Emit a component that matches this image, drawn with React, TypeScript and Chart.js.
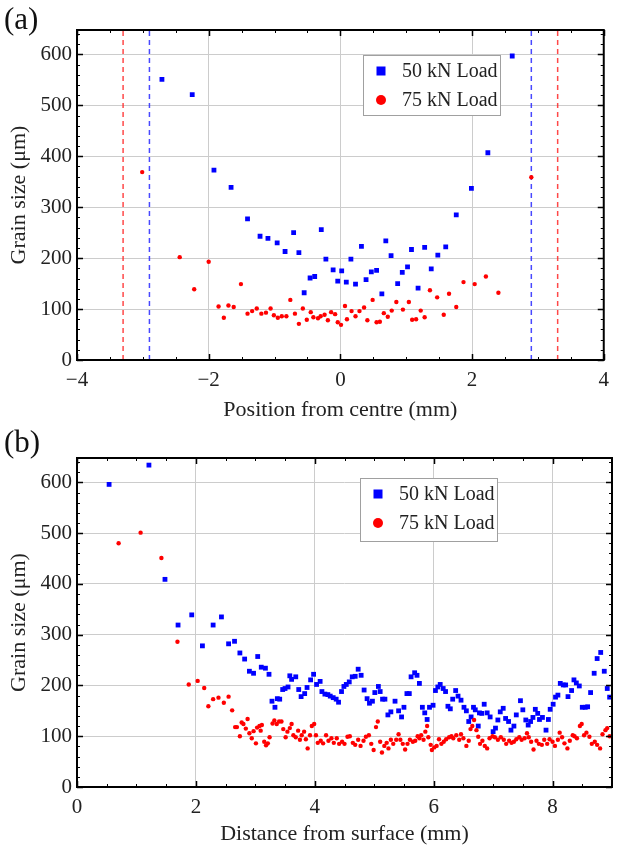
import React, { useEffect, useRef } from "react";
import { Chart, registerables } from "chart.js";

Chart.register(...registerables);

const FONT = '"Liberation Serif", "Times New Roman", serif';

// ---------- shared ----------
const SERIES_LABELS = ["50 kN Load", "75 kN Load"];
const SERIES_COLORS = ["#0000ff", "#ff0000"];
const Y_TICKS = [0, 100, 200, 300, 400, 500, 600];
const Y_MIN = 0;
const Y_MAX = 648;
const Y_TITLE = "Grain size (μm)";

// ---------- panel (a) ----------
const A_X_TICKS = [-4, -2, 0, 2, 4];
const A_X_MIN = -4;
const A_X_MAX = 4;
const A_X_TITLE = "Position from centre (mm)";
const A_CUTOFF_50 = [-2.9, 2.9];
const A_CUTOFF_75 = [-3.3, 3.3];

const A_50KN: [number, number][] = [
  [-2.71, 551], [-2.25, 521], [-1.92, 373], [-1.66, 339], [-1.41, 277], [-1.22, 243],
  [-1.10, 239], [-0.96, 230], [-0.84, 213], [-0.71, 250], [-0.63, 211], [-0.55, 132],
  [-0.46, 161], [-0.39, 164], [-0.29, 256], [-0.22, 198], [-0.11, 177], [-0.04, 155],
  [0.02, 175], [0.09, 153], [0.16, 198], [0.23, 149], [0.32, 223], [0.39, 158],
  [0.47, 173], [0.55, 176], [0.63, 130], [0.69, 234], [0.77, 205], [0.87, 150],
  [0.94, 172], [1.02, 183], [1.08, 217], [1.18, 141], [1.28, 221], [1.38, 179],
  [1.48, 206], [1.60, 222], [1.76, 285], [1.99, 337], [2.24, 407], [2.61, 597],
];

const A_75KN: [number, number][] = [
  [-3.01, 369], [-2.44, 202], [-2.22, 139], [-2.00, 193], [-1.85, 105], [-1.77, 83],
  [-1.70, 107], [-1.62, 104], [-1.51, 149], [-1.41, 91], [-1.34, 96], [-1.27, 101],
  [-1.20, 91], [-1.13, 93], [-1.06, 101], [-1.01, 88], [-0.95, 83], [-0.89, 86],
  [-0.82, 86], [-0.76, 118], [-0.69, 91], [-0.63, 71], [-0.57, 101], [-0.51, 79],
  [-0.45, 94], [-0.41, 84], [-0.34, 82], [-0.30, 86], [-0.24, 89], [-0.19, 78],
  [-0.14, 94], [-0.08, 90], [-0.04, 74], [0.01, 69], [0.07, 106], [0.10, 80],
  [0.17, 96], [0.23, 86], [0.29, 96], [0.36, 103], [0.41, 78], [0.49, 118],
  [0.55, 74], [0.60, 75], [0.66, 92], [0.72, 85], [0.78, 97], [0.85, 114],
  [0.95, 99], [1.04, 114], [1.09, 79], [1.15, 80], [1.22, 97], [1.28, 84],
  [1.36, 137], [1.47, 123], [1.57, 89], [1.65, 130], [1.76, 104], [1.87, 153],
  [2.04, 149], [2.21, 164], [2.40, 132], [2.90, 359],
];

// ---------- panel (b) ----------
const B_X_TICKS = [0, 2, 4, 6, 8];
const B_X_MIN = 0;
const B_X_MAX = 9;
const B_X_TITLE = "Distance from surface (mm)";

const B_50KN: [number, number][] = [
  [0.54, 596], [1.21, 634], [1.48, 409], [1.70, 319], [1.93, 339], [2.11, 278],
  [2.29, 319], [2.43, 335], [2.55, 282], [2.65, 287], [2.74, 264], [2.82, 252],
  [2.90, 228], [2.97, 224], [3.04, 257], [3.10, 236], [3.17, 234], [3.23, 222],
  [3.28, 169], [3.33, 157], [3.37, 174], [3.41, 173], [3.46, 192], [3.50, 194],
  [3.55, 197], [3.58, 219], [3.61, 212], [3.68, 217], [3.73, 192], [3.77, 178],
  [3.83, 184], [3.87, 196], [3.93, 211], [3.98, 222], [4.03, 202], [4.09, 208],
  [4.12, 188], [4.17, 183], [4.22, 182], [4.26, 179], [4.31, 176], [4.36, 173],
  [4.40, 167], [4.45, 188], [4.49, 198], [4.53, 202], [4.58, 207], [4.63, 217],
  [4.68, 218], [4.73, 232], [4.78, 220], [4.83, 191], [4.88, 174], [4.92, 165],
  [4.97, 169], [5.01, 186], [5.07, 198], [5.10, 188], [5.14, 173], [5.18, 173],
  [5.23, 142], [5.28, 148], [5.35, 169], [5.41, 150], [5.46, 138], [5.50, 157],
  [5.55, 184], [5.59, 184], [5.62, 217], [5.68, 225], [5.72, 220], [5.76, 204],
  [5.81, 157], [5.85, 146], [5.89, 133], [5.93, 157], [5.99, 161], [6.03, 190],
  [6.07, 197], [6.11, 202], [6.16, 194], [6.20, 188], [6.24, 159], [6.28, 154],
  [6.32, 173], [6.37, 190], [6.41, 179], [6.46, 171], [6.51, 157], [6.55, 150],
  [6.59, 129], [6.63, 138], [6.67, 157], [6.70, 152], [6.75, 120], [6.77, 146],
  [6.81, 145], [6.85, 163], [6.90, 146], [6.95, 138], [7.00, 109], [7.04, 116],
  [7.08, 132], [7.12, 148], [7.17, 155], [7.21, 135], [7.26, 129], [7.30, 112],
  [7.35, 120], [7.39, 142], [7.46, 170], [7.50, 152], [7.55, 132], [7.59, 122],
  [7.63, 129], [7.67, 137], [7.71, 153], [7.75, 145], [7.78, 133], [7.83, 137],
  [7.89, 112], [7.93, 133], [7.96, 153], [8.01, 163], [8.05, 177], [8.09, 181],
  [8.13, 204], [8.18, 201], [8.22, 201], [8.26, 178], [8.32, 190], [8.36, 211],
  [8.40, 205], [8.45, 199], [8.50, 157], [8.55, 157], [8.59, 158], [8.64, 186],
  [8.70, 224], [8.75, 253], [8.81, 265], [8.87, 228], [8.92, 194], [8.96, 177],
];

const B_75KN: [number, number][] = [
  [0.70, 480], [1.07, 501], [1.42, 451], [1.69, 286], [1.88, 202], [2.03, 209],
  [2.14, 195], [2.21, 159], [2.29, 173], [2.38, 176], [2.47, 166], [2.55, 178],
  [2.61, 151], [2.66, 118], [2.69, 118], [2.74, 100], [2.77, 127], [2.80, 124],
  [2.84, 115], [2.87, 134], [2.90, 106], [2.94, 96], [2.97, 110], [3.01, 86],
  [3.03, 117], [3.07, 120], [3.09, 111], [3.11, 122], [3.15, 89], [3.18, 82],
  [3.21, 86], [3.24, 98], [3.29, 125], [3.32, 131], [3.36, 124], [3.40, 129],
  [3.44, 129], [3.47, 114], [3.51, 98], [3.54, 109], [3.58, 116], [3.61, 124],
  [3.64, 102], [3.68, 98], [3.72, 111], [3.75, 93], [3.78, 102], [3.82, 109],
  [3.85, 94], [3.88, 76], [3.92, 102], [3.95, 120], [3.99, 124], [4.02, 102],
  [4.05, 87], [4.10, 91], [4.14, 86], [4.19, 102], [4.23, 91], [4.28, 96],
  [4.32, 87], [4.37, 96], [4.41, 85], [4.46, 89], [4.50, 85], [4.55, 99],
  [4.59, 100], [4.64, 87], [4.68, 83], [4.73, 93], [4.77, 81], [4.82, 91],
  [4.86, 99], [4.91, 102], [4.95, 85], [4.99, 73], [5.03, 118], [5.06, 129],
  [5.10, 89], [5.13, 68], [5.17, 81], [5.21, 87], [5.24, 76], [5.28, 93],
  [5.32, 85], [5.37, 93], [5.41, 104], [5.44, 93], [5.48, 85], [5.52, 74],
  [5.56, 85], [5.60, 93], [5.65, 89], [5.69, 91], [5.73, 100], [5.76, 96],
  [5.79, 102], [5.83, 93], [5.86, 109], [5.89, 120], [5.91, 98], [5.95, 83],
  [5.97, 73], [6.01, 78], [6.05, 81], [6.09, 94], [6.13, 85], [6.17, 89],
  [6.21, 94], [6.26, 98], [6.30, 100], [6.33, 96], [6.38, 102], [6.43, 93],
  [6.46, 104], [6.50, 96], [6.55, 81], [6.59, 91], [6.62, 114], [6.65, 120],
  [6.68, 132], [6.72, 112], [6.75, 99], [6.78, 85], [6.82, 91], [6.86, 81],
  [6.90, 76], [6.94, 96], [6.99, 100], [7.03, 98], [7.08, 93], [7.13, 98],
  [7.18, 93], [7.22, 85], [7.27, 91], [7.31, 87], [7.35, 89], [7.39, 94],
  [7.44, 98], [7.48, 93], [7.53, 96], [7.57, 106], [7.60, 98], [7.64, 89],
  [7.68, 74], [7.73, 91], [7.77, 85], [7.82, 83], [7.86, 93], [7.91, 85],
  [7.95, 94], [8.00, 89], [8.04, 81], [8.09, 93], [8.12, 107], [8.16, 98],
  [8.20, 86], [8.25, 76], [8.29, 91], [8.34, 102], [8.37, 100], [8.41, 96],
  [8.46, 120], [8.49, 124], [8.53, 102], [8.57, 107], [8.62, 99], [8.66, 85],
  [8.71, 89], [8.75, 83], [8.80, 76], [8.84, 104], [8.89, 112], [8.92, 116],
  [8.96, 100],
];

// ---------- helpers ----------
const fmt = (v: number) => (v < 0 ? "\u2212" + Math.abs(v) : String(v));
const toPts = (arr: [number, number][]) => arr.map(([x, y]) => ({ x, y }));

const framePlugin = {
  id: "frame",
  afterDatasetsDraw(chart: any, _a: any, o: any) {
    const { ctx, chartArea: a, scales } = chart;
    const xs = scales.x;
    const ys = scales.y;
    ctx.save();
    ctx.strokeStyle = "#000";
    ctx.lineWidth = 1;
    const tickX = (step: number, len: number) => {
      const start = Math.ceil(xs.min / step - 1e-9);
      const end = Math.floor(xs.max / step + 1e-9);
      for (let i = start; i <= end; i++) {
        const px = Math.round(xs.getPixelForValue(i * step)) + 0.5;
        ctx.beginPath();
        ctx.moveTo(px, a.bottom);
        ctx.lineTo(px, a.bottom - len);
        ctx.moveTo(px, a.top);
        ctx.lineTo(px, a.top + len);
        ctx.stroke();
      }
    };
    const tickY = (step: number, len: number) => {
      const start = Math.ceil(ys.min / step - 1e-9);
      const end = Math.floor(ys.max / step + 1e-9);
      for (let i = start; i <= end; i++) {
        const py = Math.round(ys.getPixelForValue(i * step)) + 0.5;
        ctx.beginPath();
        ctx.moveTo(a.left, py);
        ctx.lineTo(a.left + len, py);
        ctx.moveTo(a.right, py);
        ctx.lineTo(a.right - len, py);
        ctx.stroke();
      }
    };
    tickX(o.xMinor, 3);
    tickY(o.yMinor, 3);
    ctx.lineWidth = 1.5;
    tickX(o.xMajor, 6);
    tickY(o.yMajor, 6);
    ctx.lineWidth = 2;
    ctx.strokeRect(a.left, a.top, a.right - a.left, a.bottom - a.top);
    ctx.restore();
  },
};

const boxLegendPlugin = {
  id: "boxLegend",
  afterDraw(chart: any, _a: any, o: any) {
    if (!o || !o.box) return;
    const ctx = chart.ctx;
    const [x, y, w, h] = o.box;
    ctx.save();
    ctx.fillStyle = "#ffffff";
    ctx.fillRect(x, y, w, h);
    ctx.strokeStyle = "#a0a0a0";
    ctx.lineWidth = 1;
    ctx.strokeRect(x + 0.5, y + 0.5, w, h);
    SERIES_LABELS.forEach((label, i) => {
      const cy = y + o.firstRow + i * o.rowGap;
      const cx = x + o.markerX;
      ctx.fillStyle = SERIES_COLORS[i];
      if (i === 0) {
        ctx.fillRect(cx - 4.5, cy - 4.5, 9, 9);
      } else {
        ctx.beginPath();
        ctx.arc(cx, cy, 5, 0, Math.PI * 2);
        ctx.fill();
      }
      ctx.fillStyle = "#222";
      ctx.font = `20px ${FONT}`;
      ctx.textAlign = "left";
      ctx.textBaseline = "middle";
      ctx.fillText(label, x + o.textX, cy + 1);
    });
    ctx.restore();
  },
};

function makeConfig(opts: {
  xMin: number;
  xMax: number;
  xTicks: number[];
  xTitle: string;
  s50: [number, number][];
  s75: [number, number][];
  cut50?: number[];
  cut75?: number[];
  legendBox: number[];
  canvasH: number;
  plotTop: number;
  plotBottom: number;
}) {
  const datasets: any[] = [];
  (opts.cut75 || []).forEach((c) =>
    datasets.push({
      label: "cut75",
      data: [{ x: c, y: Y_MIN }, { x: c, y: Y_MAX }],
      showLine: true,
      borderColor: "rgba(255,40,40,0.85)",
      borderWidth: 1.5,
      borderDash: [5, 4],
      pointRadius: 0,
      order: 5,
    })
  );
  (opts.cut50 || []).forEach((c) =>
    datasets.push({
      label: "cut50",
      data: [{ x: c, y: Y_MIN }, { x: c, y: Y_MAX }],
      showLine: true,
      borderColor: "rgba(40,40,255,0.85)",
      borderWidth: 1.5,
      borderDash: [5, 4],
      pointRadius: 0,
      order: 5,
    })
  );
  datasets.push({
    label: SERIES_LABELS[0],
    data: toPts(opts.s50),
    pointStyle: "rect",
    pointRadius: 3.4,
    pointBorderWidth: 0,
    borderWidth: 0,
    backgroundColor: SERIES_COLORS[0],
    pointBackgroundColor: SERIES_COLORS[0],
    order: 2,
  });
  datasets.push({
    label: SERIES_LABELS[1],
    data: toPts(opts.s75),
    pointStyle: "circle",
    pointRadius: 2.2,
    pointBorderWidth: 0,
    borderWidth: 0,
    backgroundColor: SERIES_COLORS[1],
    pointBackgroundColor: SERIES_COLORS[1],
    order: 1,
  });

  const axisH = opts.canvasH - opts.plotBottom;
  return {
    type: "scatter" as const,
    data: { datasets },
    plugins: [framePlugin, boxLegendPlugin],
    options: {
      responsive: false,
      animation: false as const,
      devicePixelRatio: 1,
      layout: {
        autoPadding: false,
        padding: { top: opts.plotTop, right: 5, left: 0, bottom: 0 },
      },
      plugins: {
        legend: { display: false },
        tooltip: { enabled: false },
        frame: { xMajor: 2, xMinor: 0.5, yMajor: 100, yMinor: 20 },
        boxLegend: { box: opts.legendBox, markerX: 18, textX: 39, firstRow: 16, rowGap: 29 },
      },
      scales: {
        x: {
          type: "linear" as const,
          min: opts.xMin,
          max: opts.xMax,
          afterBuildTicks: (s: any) => {
            s.ticks = opts.xTicks.map((v) => ({ value: v }));
          },
          afterFit: (s: any) => {
            s.height = axisH;
          },
          grid: { color: "#cccccc", lineWidth: 1, drawTicks: false },
          border: { display: false },
          ticks: {
            font: { family: FONT, size: 21 },
            color: "#222",
            padding: 8,
            maxRotation: 0,
            autoSkip: false,
            callback: (v: any) => fmt(Number(v)),
          },
          title: {
            display: true,
            text: opts.xTitle,
            font: { family: FONT, size: 22 },
            color: "#222",
            padding: { top: 0, bottom: 0 },
          },
        },
        y: {
          type: "linear" as const,
          min: Y_MIN,
          max: Y_MAX,
          afterBuildTicks: (s: any) => {
            s.ticks = Y_TICKS.map((v) => ({ value: v }));
          },
          afterFit: (s: any) => {
            s.width = 77;
          },
          grid: { color: "#cccccc", lineWidth: 1, drawTicks: false },
          border: { display: false },
          ticks: {
            font: { family: FONT, size: 21 },
            color: "#222",
            padding: 5,
            autoSkip: false,
            callback: (v: any) => fmt(Number(v)),
          },
          title: {
            display: true,
            text: Y_TITLE,
            font: { family: FONT, size: 22 },
            color: "#222",
            padding: { top: 6, bottom: 0 },
          },
        },
      },
    },
  };
}

function Panel(props: { top: number; height: number; config: any; tag: string }) {
  const ref = useRef<HTMLCanvasElement | null>(null);
  useEffect(() => {
    if (!ref.current) return;
    const chart = new Chart(ref.current, props.config);
    return () => chart.destroy();
  }, []);
  return (
    <div style={{ position: "absolute", left: 0, top: props.top, width: 617, height: props.height }}>
      <canvas ref={ref} width={617} height={props.height} style={{ display: "block", width: 617, height: props.height }} />
      <div
        style={{
          position: "absolute",
          left: 4,
          top: 1,
          fontFamily: FONT,
          fontSize: 31,
          lineHeight: "36px",
          color: "#111",
        }}
      >
        {props.tag}
      </div>
    </div>
  );
}

export default function App() {
  const configA = makeConfig({
    xMin: A_X_MIN,
    xMax: A_X_MAX,
    xTicks: A_X_TICKS,
    xTitle: A_X_TITLE,
    s50: A_50KN,
    s75: A_75KN,
    cut50: A_CUTOFF_50,
    cut75: A_CUTOFF_75,
    legendBox: [363, 55, 137, 60],
    canvasH: 423,
    plotTop: 30,
    plotBottom: 360,
  });
  const configB = makeConfig({
    xMin: B_X_MIN,
    xMax: B_X_MAX,
    xTicks: B_X_TICKS,
    xTitle: B_X_TITLE,
    s50: B_50KN,
    s75: B_75KN,
    legendBox: [360, 55, 137, 63],
    canvasH: 424,
    plotTop: 35,
    plotBottom: 364,
  });
  return (
    <div style={{ position: "absolute", left: 0, top: 0, width: 617, height: 847, background: "#fff" }}>
      <Panel top={0} height={423} config={configA} tag="(a)" />
      <Panel top={423} height={424} config={configB} tag="(b)" />
    </div>
  );
}
